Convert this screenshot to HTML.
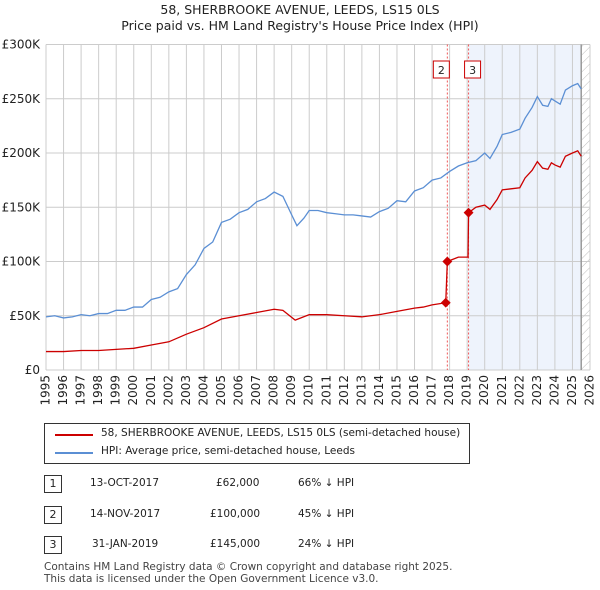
<!DOCTYPE html>
<html><head><meta charset="utf-8"><style>
body{margin:0;background:#fff;font-family:"DejaVu Sans","Liberation Sans",sans-serif;color:#222;}
#wrap{position:relative;width:600px;height:590px;overflow:hidden}
.t{position:absolute;font-size:12px;white-space:nowrap}
.box{position:absolute;border:1px solid #333;width:16px;height:16px;text-align:center;line-height:16px;font-size:11px}
</style></head><body><div id="wrap">
<div class="t" style="left:0;width:600px;text-align:center;top:2px;font-size:12.5px">58, SHERBROOKE AVENUE, LEEDS, LS15 0LS</div>
<div class="t" style="left:0;width:600px;text-align:center;top:18px;font-size:12.5px">Price paid vs. HM Land Registry's House Price Index (HPI)</div>
<svg id="c" width="600" height="415" style="position:absolute;left:0;top:0"></svg>
<div style="position:absolute;left:44px;top:423px;width:424px;height:39px;border:1px solid #333">
<div><div style="position:absolute;left:10px;top:10px;width:38px;height:2px;background:#cc0000"></div><div class="t" style="left:56px;top:3px;font-size:10.5px">58, SHERBROOKE AVENUE, LEEDS, LS15 0LS (semi-detached house)</div></div>
<div><div style="position:absolute;left:10px;top:28px;width:38px;height:2px;background:#5b8fd4"></div><div class="t" style="left:56px;top:21px;font-size:10.5px">HPI: Average price, semi-detached house, Leeds</div></div>
</div>
<div>
<div class="box" style="left:44px;top:475px">1</div>
<div class="t" style="left:90px;top:477px;font-size:10.5px">13-OCT-2017</div><div class="t" style="left:216px;top:477px;font-size:10.5px">£62,000</div><div class="t" style="left:298px;top:477px;font-size:10.5px">66% ↓ HPI</div>
<div class="box" style="left:44px;top:506px">2</div>
<div class="t" style="left:90px;top:508px;font-size:10.5px">14-NOV-2017</div><div class="t" style="left:210px;top:508px;font-size:10.5px">£100,000</div><div class="t" style="left:298px;top:508px;font-size:10.5px">45% ↓ HPI</div>
<div class="box" style="left:44px;top:536px">3</div>
<div class="t" style="left:92px;top:538px;font-size:10.5px">31-JAN-2019</div><div class="t" style="left:210px;top:538px;font-size:10.5px">£145,000</div><div class="t" style="left:298px;top:538px;font-size:10.5px">24% ↓ HPI</div>
</div>
<div class="t" style="left:44px;top:561px;font-size:10.5px;line-height:12px;color:#444">Contains HM Land Registry data © Crown copyright and database right 2025.<br>This data is licensed under the Open Government Licence v3.0.</div>
</div>
<script>
const hpiYears=[1995,1995.5,1996,1996.5,1997,1997.5,1998,1998.5,1999,1999.5,2000,2000.5,2001,2001.5,2002,2002.5,2003,2003.5,2004,2004.5,2005,2005.5,2006,2006.5,2007,2007.5,2008,2008.5,2009,2009.3,2009.7,2010,2010.5,2011,2011.5,2012,2012.5,2013,2013.5,2014,2014.5,2015,2015.5,2016,2016.5,2017,2017.5,2018,2018.5,2019,2019.5,2020,2020.3,2020.7,2021,2021.5,2022,2022.3,2022.7,2023,2023.3,2023.6,2023.8,2024,2024.3,2024.6,2025,2025.3,2025.5];
const hpiValues=[49,50,48,49,51,50,52,52,55,55,58,58,65,67,72,75,88,97,112,118,136,139,145,148,155,158,164,160,143,133,140,147,147,145,144,143,143,142,141,146,149,156,155,165,168,175,177,183,188,191,193,200,195,206,217,219,222,232,242,252,244,243,250,248,245,258,262,264,259];
const paidYears=[1995,1996,1997,1998,1999,2000,2001,2002,2003,2004,2005,2006,2007,2008,2008.5,2009.2,2010,2011,2012,2013,2014,2015,2016,2016.5,2017,2017.78,2017.87,2018.5,2019.05,2019.08,2019.5,2020,2020.3,2020.7,2021,2021.5,2022,2022.3,2022.7,2023,2023.3,2023.6,2023.8,2024,2024.3,2024.6,2025,2025.3,2025.5];
const paidValues=[17,17,18,18,19,20,23,26,33,39,47,50,53,56,55,46,51,51,50,49,51,54,57,58,60,62,100,104,104,145,150,152,148,157,166,167,168,177,184,192,186,185,191,189,187,197,200,202,197];
const saleYears=[2017.78,2017.87,2019.08];
const saleValues=[62,100,145];
const saleLabels=["1","2","3"];
const yTicks=[0,50,100,150,200,250,300];
const yTickLabels=["£0","£50K","£100K","£150K","£200K","£250K","£300K"];
const xTicks=[1995,1996,1997,1998,1999,2000,2001,2002,2003,2004,2005,2006,2007,2008,2009,2010,2011,2012,2013,2014,2015,2016,2017,2018,2019,2020,2021,2022,2023,2024,2025,2026];
const L=46,R=590,T=44.5,B=370;
const X=y=>L+(y-1995)/31*(R-L);
const Y=v=>B-v/300*(B-T);
const s=document.getElementById('c');
const NS='http://www.w3.org/2000/svg';
function mk(tag,a,p){const e=document.createElementNS(NS,tag);for(const k in a)e.setAttribute(k,a[k]);(p||s).appendChild(e);return e;}
const defs=mk('defs',{});
const pat=mk('pattern',{id:'h',width:6,height:6,patternUnits:'userSpaceOnUse',patternTransform:'rotate(45)'},defs);
mk('line',{x1:0,y1:0,x2:0,y2:6,stroke:'#bbb','stroke-width':1},pat);
let e=mk('rect',{x:X(2019.08),y:T,width:X(2025.5)-X(2019.08),height:B-T,fill:'#eef3fc'});


e=mk('rect',{x:X(2025.5),y:T,width:R-X(2025.5),height:B-T,fill:'url(#h)'});


xTicks.forEach(t=>{const g=mk('line',{x1:X(t),x2:X(t),y1:T,y2:B,stroke:'#ccc','stroke-width':1});


const tx=mk('text',{x:0,y:0,'font-size':12,'text-anchor':'end','dominant-baseline':'middle','font-family':'DejaVu Sans',fill:'#222',transform:`translate(${X(t)},${B+5}) rotate(-90)`});tx.textContent=t;

});
yTicks.forEach((t,i)=>{const g=mk('line',{x1:L,x2:R,y1:Y(t),y2:Y(t),stroke:'#ccc','stroke-width':1});


const tx=mk('text',{x:L-6,y:Y(t)+4,'font-size':12,'text-anchor':'end','font-family':'DejaVu Sans',fill:'#222'});tx.textContent=yTickLabels[i];

});
e=mk('line',{x1:X(2025.5),x2:X(2025.5),y1:T,y2:B,stroke:'#999','stroke-width':1.5});


saleYears.forEach((y,i)=>{if(i==0)return;const l=mk('line',{x1:X(y),x2:X(y),y1:T,y2:B,stroke:'#e55','stroke-width':1,'stroke-dasharray':'2,2'});


const r=mk('rect',{x:(i==1?X(y)-14:X(y)-4),y:61,width:16,height:17,fill:'#fff',stroke:'#c00'});


const tx=mk('text',{x:(i==1?X(y)-6:X(y)+4),y:74,'font-size':11,'text-anchor':'middle','font-family':'DejaVu Sans',fill:'#222'});tx.textContent=saleLabels[i];

});
e=mk('polyline',{points:hpiYears.map((y,i)=>X(y)+','+Y(hpiValues[i])).join(' '),fill:'none',stroke:'#5b8fd4','stroke-width':1.3});


e=mk('polyline',{points:paidYears.map((y,i)=>X(y)+','+Y(paidValues[i])).join(' '),fill:'none',stroke:'#cc0000','stroke-width':1.3});


saleYears.forEach((y,i)=>{const d=mk('rect',{x:X(y)-3.5,y:Y(saleValues[i])-3.5,width:7,height:7,fill:'#cc0000',transform:`rotate(45 ${X(y)} ${Y(saleValues[i])})`});

});
</script></body></html>
